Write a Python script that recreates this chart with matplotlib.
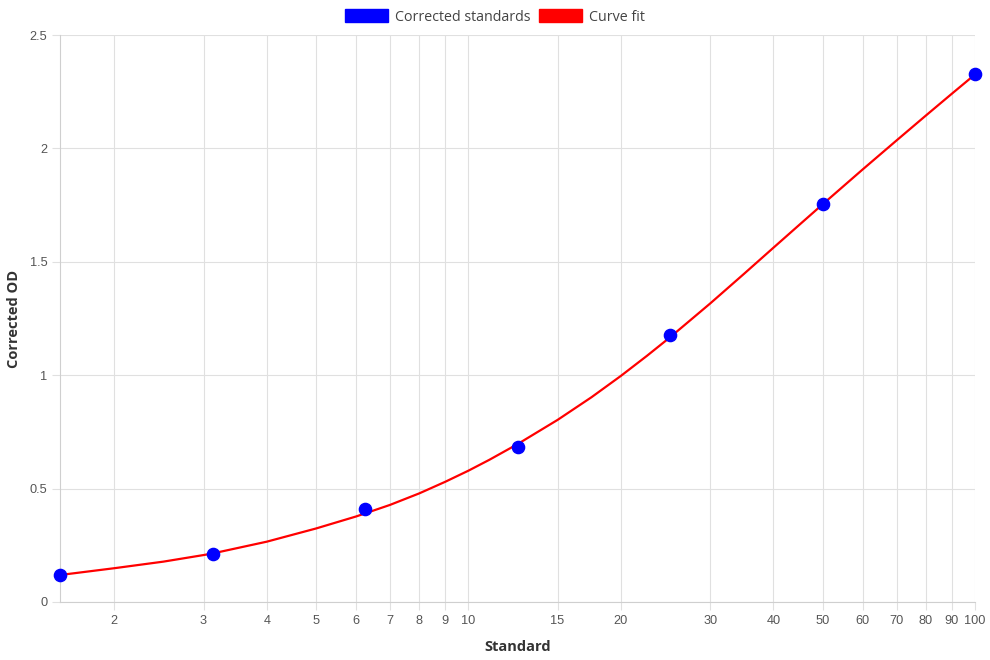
import matplotlib
matplotlib.use("Agg")
import matplotlib.pyplot as plt
from matplotlib.patches import Patch
from matplotlib.ticker import FixedLocator, FixedFormatter, NullLocator

# standards (concentration, corrected OD)
std_x = [1.5625, 3.125, 6.25, 12.5, 25, 50, 100]
std_y = [0.119, 0.212, 0.410, 0.682, 1.177, 1.755, 2.328]

# fitted curve
fit_x = [1.5625, 2, 2.5, 3, 3.125, 4, 5, 6, 7, 8, 9, 10, 11, 12.5, 15, 17.5,
         20, 22.5, 25, 30, 35, 40, 45, 50, 60, 70, 80, 90, 100]
fit_y = [0.119, 0.149, 0.178, 0.207, 0.214, 0.266, 0.324, 0.377, 0.428, 0.479,
         0.530, 0.579, 0.627, 0.696, 0.803, 0.903, 0.997, 1.085, 1.167, 1.316,
         1.447, 1.562, 1.663, 1.753, 1.907, 2.035, 2.145, 2.241, 2.326]

xticks = [2, 3, 4, 5, 6, 7, 8, 9, 10, 15, 20, 30, 40, 50, 60, 70, 80, 90, 100]
yticks = [0, 0.5, 1, 1.5, 2, 2.5]

grid_c = "#e0e0e0"
tick_font = "Liberation Sans"
title_font = "Open Sans"

fig = plt.figure(figsize=(9.9, 6.6), dpi=100)
ax = fig.add_axes([60 / 990, 1 - 602 / 660, 915 / 990, 567 / 660])

ax.plot(fit_x, fit_y, color="red", lw=1.6, zorder=3, clip_on=False,
        solid_joinstyle="round", solid_capstyle="round")
ax.plot(std_x, std_y, "o", color="blue", ms=8.8, zorder=4, clip_on=False)

ax.set_xscale("log")
ax.set_xlim(1.5625, 100)
ax.set_ylim(0, 2.5)

ax.xaxis.set_major_locator(FixedLocator(xticks))
ax.xaxis.set_major_formatter(FixedFormatter([str(v) for v in xticks]))
ax.xaxis.set_minor_locator(NullLocator())
ax.set_yticks(yticks)
ax.set_yticklabels(["0", "0.5", "1", "1.5", "2", "2.5"])

ax.grid(True, color=grid_c, lw=0.8, zorder=0)
ax.set_axisbelow(True)
for s in ["top", "right"]:
    ax.spines[s].set_visible(False)
for s in ["left", "bottom"]:
    ax.spines[s].set_color("#cfcfcf")
    ax.spines[s].set_linewidth(0.8)

ax.tick_params(axis="both", length=6, width=0.8, color=grid_c,
               labelcolor="#555555", labelsize=9.2)
ax.tick_params(axis="x", pad=3)
ax.tick_params(axis="y", pad=3)
for lab in ax.get_xticklabels() + ax.get_yticklabels():
    lab.set_fontfamily(tick_font)

ax.set_xlabel("Standard", fontfamily=title_font, fontweight="bold",
              fontsize=10.5, color="#333333", labelpad=10)
ax.set_ylabel("Corrected OD", fontfamily=title_font, fontweight="bold",
              fontsize=10.5, color="#333333", labelpad=6)

handles = [Patch(facecolor="blue", edgecolor="blue", label="Corrected standards"),
           Patch(facecolor="red", edgecolor="red", label="Curve fit")]
leg = fig.legend(handles=handles, loc="center", bbox_to_anchor=(0.5, 1 - 17 / 660),
                 ncol=2, frameon=False, handlelength=3.0, handleheight=0.95,
                 handletextpad=0.45, columnspacing=0.65,
                 prop={"family": title_font, "size": 10.3})
for t in leg.get_texts():
    t.set_color("#444444")

fig.savefig("out.png", dpi=100)
